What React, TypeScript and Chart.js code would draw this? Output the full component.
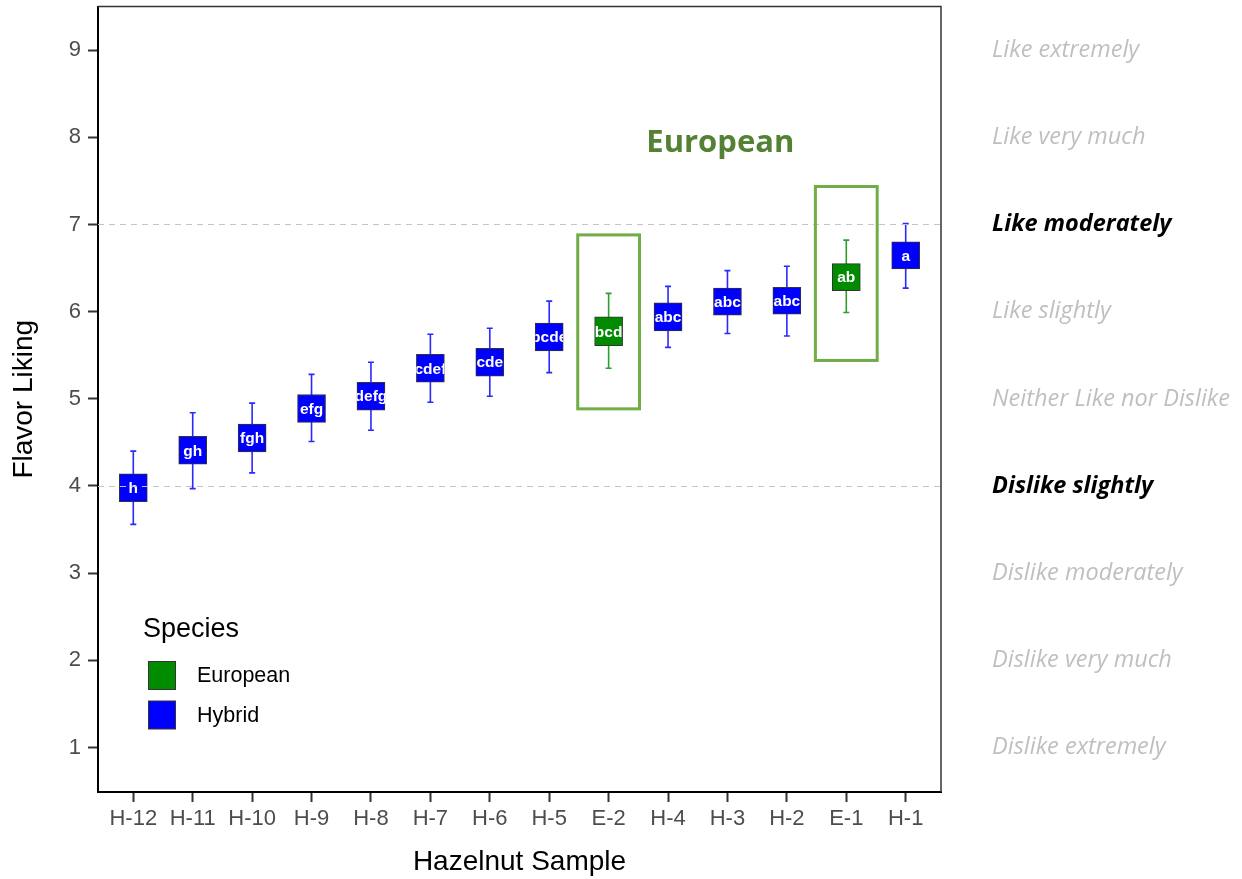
import React, { useEffect, useRef } from "react";
import { Chart, registerables } from "chart.js";

Chart.register(...registerables);

const categories = ["H-12", "H-11", "H-10", "H-9", "H-8", "H-7", "H-6", "H-5", "E-2", "H-4", "H-3", "H-2", "E-1", "H-1"];
const species = ["Hybrid", "Hybrid", "Hybrid", "Hybrid", "Hybrid", "Hybrid", "Hybrid", "Hybrid", "European", "Hybrid", "Hybrid", "Hybrid", "European", "Hybrid"];
const boxLow = [3.82, 4.25, 4.39, 4.73, 4.87, 5.19, 5.26, 5.55, 5.61, 5.78, 5.96, 5.97, 6.24, 6.49];
const boxHigh = [4.14, 4.57, 4.71, 5.05, 5.19, 5.51, 5.58, 5.87, 5.94, 6.10, 6.27, 6.28, 6.55, 6.80];
const whiskerLow = [3.56, 3.97, 4.15, 4.51, 4.64, 4.96, 5.03, 5.30, 5.35, 5.59, 5.75, 5.72, 5.99, 6.27];
const whiskerHigh = [4.40, 4.84, 4.95, 5.28, 5.42, 5.74, 5.81, 6.12, 6.21, 6.29, 6.47, 6.52, 6.82, 7.01];
const letters = ["h", "gh", "fgh", "efg", "defg", "cdef", "cde", "bcde", "bcd", "abc", "abc", "abc", "ab", "a"];

const hedonicLabels = [
  "Dislike extremely",
  "Dislike very much",
  "Dislike moderately",
  "Dislike slightly",
  "Neither Like nor Dislike",
  "Like slightly",
  "Like moderately",
  "Like very much",
  "Like extremely",
];
const emphasizedValues = [4, 7];
const referenceLines = [4, 7];

// highlight frames around European samples: [xFrom, xTo, yFrom, yTo] in data units
const highlightFrames = [
  [8.48, 9.52, 4.885, 6.88],
  [12.48, 13.52, 5.44, 7.435],
];
const annotationText = "European";
const annotationPos = [10.88, 7.93];

const speciesList = ["European", "Hybrid"];
const speciesFill: Record<string, string> = { European: "#008B00", Hybrid: "#0000FF" };
const speciesWhisker: Record<string, string> = { European: "#2E9E2E", Hybrid: "#2A2AFF" };

const SANS = "'Liberation Sans', Arial, sans-serif";
const LABEL_FONT = "'Open Sans', 'Noto Sans', sans-serif";

const Y_MIN = 0.49;
const Y_MAX = 9.5;
const X_MIN = 0.406;
const X_MAX = 14.594;

const overlayPlugin = {
  id: "overlay",
  beforeDatasetsDraw(chart: any) {
    const ctx = chart.ctx;
    const x = chart.scales.x;
    const y = chart.scales.y;
    ctx.save();
    categories.forEach((_, i) => {
      const px = x.getPixelForValue(i + 1);
      const lo = y.getPixelForValue(whiskerLow[i]);
      const hi = y.getPixelForValue(whiskerHigh[i]);
      ctx.strokeStyle = speciesWhisker[species[i]];
      ctx.lineWidth = 1.6;
      ctx.beginPath();
      ctx.moveTo(px, lo);
      ctx.lineTo(px, hi);
      ctx.moveTo(px - 3, lo);
      ctx.lineTo(px + 3, lo);
      ctx.moveTo(px - 3, hi);
      ctx.lineTo(px + 3, hi);
      ctx.stroke();
    });
    ctx.restore();
  },
  afterDatasetsDraw(chart: any) {
    const ctx = chart.ctx;
    const x = chart.scales.x;
    const y = chart.scales.y;
    const area = chart.chartArea;
    ctx.save();
    // letters
    ctx.fillStyle = "#FFFFFF";
    ctx.font = `bold 15.5px ${SANS}`;
    ctx.textAlign = "center";
    ctx.textBaseline = "middle";
    categories.forEach((_, i) => {
      const px = x.getPixelForValue(i + 1);
      const py = y.getPixelForValue((boxLow[i] + boxHigh[i]) / 2);
      ctx.save();
      ctx.beginPath();
      const bx0 = px - 14;
      const by0 = y.getPixelForValue(boxHigh[i]);
      const by1 = y.getPixelForValue(boxLow[i]);
      ctx.rect(bx0, by0, 28, by1 - by0);
      ctx.clip();
      ctx.fillText(letters[i], px, py + 1);
      ctx.restore();
    });
    // reference dashed lines
    ctx.strokeStyle = "#C4C4C4";
    ctx.lineWidth = 1;
    ctx.setLineDash([6, 5]);
    referenceLines.forEach((v) => {
      const py = Math.round(y.getPixelForValue(v)) + 0.5;
      ctx.beginPath();
      ctx.moveTo(area.left, py);
      ctx.lineTo(area.right, py);
      ctx.stroke();
    });
    ctx.setLineDash([]);
    // top and right frame
    ctx.strokeStyle = "#333333";
    ctx.lineWidth = 1.5;
    ctx.beginPath();
    ctx.moveTo(area.left, area.top);
    ctx.lineTo(area.right, area.top);
    ctx.lineTo(area.right, area.bottom);
    ctx.stroke();
    // highlight frames
    ctx.strokeStyle = "#70AD47";
    ctx.lineWidth = 3;
    highlightFrames.forEach((f) => {
      const x0 = x.getPixelForValue(f[0]);
      const x1 = x.getPixelForValue(f[1]);
      const y0 = y.getPixelForValue(f[3]);
      const y1 = y.getPixelForValue(f[2]);
      ctx.strokeRect(x0, y0, x1 - x0, y1 - y0);
    });
    // annotation
    ctx.fillStyle = "#548235";
    ctx.font = `bold 31px ${LABEL_FONT}`;
    ctx.textAlign = "center";
    ctx.textBaseline = "middle";
    ctx.fillText(annotationText, x.getPixelForValue(annotationPos[0]), y.getPixelForValue(annotationPos[1]));
    // legend
    const lx = area.left + 45;
    const ly = area.top + 623;
    ctx.fillStyle = "#000000";
    ctx.textAlign = "left";
    ctx.font = `27px ${SANS}`;
    ctx.fillText("Species", lx, ly);
    ctx.font = `21.5px ${SANS}`;
    speciesList.forEach((s, k) => {
      const ky = ly + 32 + k * 39.5;
      ctx.fillStyle = speciesFill[s];
      ctx.fillRect(lx + 5.5, ky, 27, 28);
      ctx.strokeStyle = "#333333";
      ctx.lineWidth = 1;
      ctx.strokeRect(lx + 5.5, ky, 27, 28);
      ctx.fillStyle = "#000000";
      ctx.fillText(s, lx + 54, ky + 15);
    });
    ctx.restore();
  },
};

export default function App() {
  const canvasRef = useRef<HTMLCanvasElement | null>(null);

  useEffect(() => {
    if (!canvasRef.current) return;
    const chart = new Chart(canvasRef.current, {
      type: "bar",
      data: {
        datasets: [
          {
            label: "Flavor Liking",
            data: categories.map((_, i) => ({ x: i + 1, y: [boxLow[i], boxHigh[i]] })) as any,
            backgroundColor: species.map((s) => speciesFill[s]),
            borderColor: "#333333",
            borderWidth: 1,
            borderSkipped: false,
            barThickness: 28,
          },
        ],
      },
      options: {
        responsive: false,
        animation: false,
        layout: { padding: { top: 6.5, left: 0, right: 0, bottom: 0 } },
        plugins: { legend: { display: false }, tooltip: { enabled: false } },
        scales: {
          x: {
            type: "linear",
            offset: false,
            min: X_MIN,
            max: X_MAX,
            ticks: {
              stepSize: 1,
              includeBounds: false,
              autoSkip: false,
              maxRotation: 0,
              padding: 4,
              color: "#4D4D4D",
              font: { family: SANS, size: 22 },
              callback: (v: any) => categories[Math.round(v) - 1] ?? "",
            },
            grid: { display: true, offset: false, drawOnChartArea: false, tickLength: 10, tickColor: "#333333", tickWidth: 2 },
            border: { display: true, color: "#000000", width: 2 },
            title: {
              display: true,
              text: "Hazelnut Sample",
              color: "#000000",
              font: { family: SANS, size: 28 },
              padding: { top: 0, bottom: 0 },
            },
            afterFit: (s: any) => {
              s.height = 87;
              s.paddingLeft = 0;
              s.paddingRight = 0;
            },
          },
          y: {
            type: "linear",
            position: "left",
            min: Y_MIN,
            max: Y_MAX,
            ticks: {
              stepSize: 1,
              includeBounds: false,
              padding: 7,
              color: "#4D4D4D",
              font: { family: SANS, size: 22 },
            },
            grid: { display: true, drawOnChartArea: false, tickLength: 10, tickColor: "#333333", tickWidth: 2 },
            border: { display: true, color: "#000000", width: 2 },
            title: {
              display: true,
              text: "Flavor Liking",
              color: "#000000",
              font: { family: SANS, size: 28 },
              padding: { top: 7, bottom: 0 },
            },
            afterFit: (s: any) => {
              s.width = 98;
              s.paddingTop = 0;
              s.paddingBottom = 0;
            },
          },
          y2: {
            type: "linear",
            position: "right",
            min: Y_MIN,
            max: Y_MAX,
            ticks: {
              stepSize: 1,
              includeBounds: false,
              padding: 51,
              callback: (v: any) => hedonicLabels[Math.round(v) - 1] ?? "",
              color: (c: any) => (emphasizedValues.includes(c.tick?.value) ? "#000000" : "#BFBFBF"),
              font: (c: any) => ({
                family: LABEL_FONT,
                size: 23.5,
                style: "italic",
                weight: emphasizedValues.includes(c.tick?.value) ? "bold" : "normal",
              }),
            },
            grid: { display: false, drawTicks: false },
            border: { display: false },
            afterFit: (s: any) => {
              s.width = 301;
              s.paddingTop = 0;
              s.paddingBottom = 0;
            },
          },
        },
      } as any,
      plugins: [overlayPlugin],
    });
    return () => chart.destroy();
  }, []);

  return (
    <div style={{ position: "fixed", left: 0, top: 0, width: 1242, height: 879, background: "#FFFFFF" }}>
      <canvas ref={canvasRef} width={1242} height={879} style={{ width: 1242, height: 879 }} />
    </div>
  );
}
